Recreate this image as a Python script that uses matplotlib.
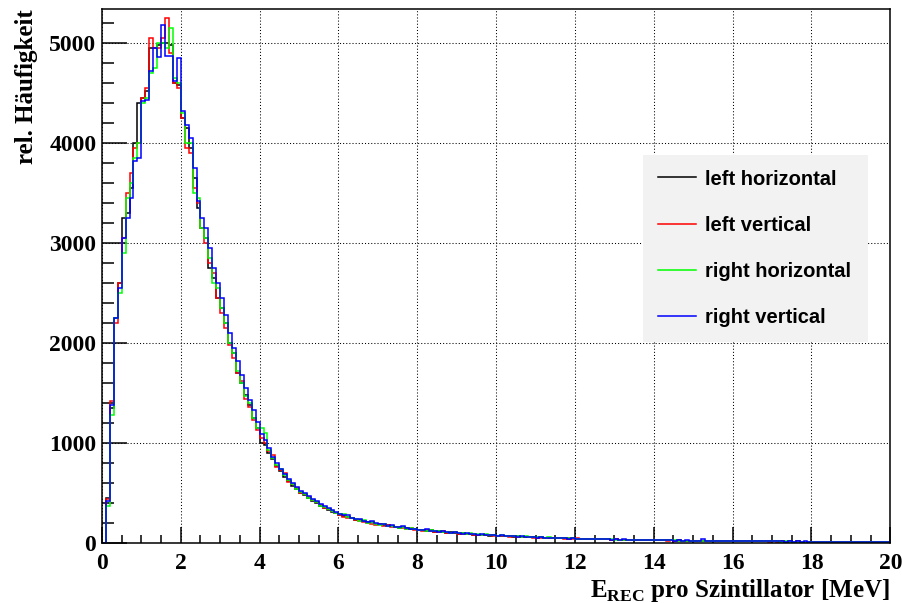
import matplotlib

matplotlib.use("Agg")

import matplotlib.pyplot as plt
import numpy as np
from matplotlib.ticker import MultipleLocator

# energy bins: 200 bins of 0.1 MeV from 0 to 20 MeV
bin_lo = 0.0
bin_hi = 20.0
n_bins = 200

labels = ["left horizontal", "left vertical", "right horizontal", "right vertical"]
colors = ["#000000", "#ff0000", "#00ff00", "#0000ff"]

left_horizontal = [
    0, 450, 1350, 2250, 2600, 3250, 3300, 3550, 4000, 4400,
    4450, 4520, 4950, 4950, 4980, 5000, 5000, 4980, 4600, 4580,
    4250, 4150, 3950, 3650, 3350, 3150, 3050, 2750, 2650, 2450,
    2350, 2200, 2000, 1900, 1700, 1600, 1480, 1380, 1250, 1150,
    1000,
    980, 900, 840, 770, 720, 660, 620, 570, 540, 500, 480, 450, 420, 400, 370, 350, 330, 315, 300, 280,
    270, 260, 250, 235, 230, 220, 210, 215, 195, 190, 185, 180, 170, 165, 155, 160, 150, 140, 145, 130,
    130, 125, 130, 115, 120, 110, 105, 110, 100, 95, 100, 90, 95, 85, 85, 80, 85, 75, 80, 70,
    75, 70, 70, 65, 68, 60, 62, 58, 60, 55, 58, 52, 55, 50, 52, 48, 50, 45, 48, 44,
    44, 42, 40, 42, 38, 40, 36, 38, 34, 36, 33, 35, 31, 33, 30, 32, 29, 30, 28, 29,
    27, 28, 26, 27, 25, 26, 24, 25, 23, 24, 22, 23, 21, 22, 20, 22, 20, 21, 19, 20,
    19, 20, 18, 19, 17, 18, 17, 18, 16, 17, 16, 17, 15, 16, 15, 16, 14, 15, 14, 15,
    14, 15, 13, 14, 13, 14, 12, 13, 12, 13, 12, 12, 11, 12, 11, 12, 10, 11, 10,
]

left_vertical = [
    0, 440, 1420, 2200, 2600, 3050, 3500, 3700, 3950, 4000,
    4450, 4550, 5050, 4950, 4950, 5050, 5250, 4900, 4600, 4550,
    4250, 3950, 3900, 3550, 3400, 3150, 3000, 2800, 2700, 2450,
    2300, 2150, 1980, 1850, 1700, 1620, 1440, 1360, 1230, 1130,
    1050,
    1000, 920, 880, 760, 730, 700, 610, 590, 550, 500, 490, 460, 430, 410, 380, 355, 340, 320, 300, 285,
    265, 255, 250, 230, 225, 215, 200, 195, 185, 190, 175, 185, 165, 160, 165, 150, 145, 150, 135, 130,
    125, 130, 120, 115, 110, 120, 105, 100, 110, 95, 95, 90, 95, 85, 80, 85, 78, 80, 72, 75,
    70, 72, 65, 68, 62, 65, 58, 60, 55, 58, 52, 55, 50, 52, 48, 50, 45, 48, 43, 46,
    42, 44, 40, 41, 38, 39, 36, 37, 34, 36, 32, 34, 31, 32, 29, 31, 28, 30, 27, 28,
    26, 27, 25, 26, 24, 25, 23, 24, 22, 23, 21, 22, 20, 21, 19, 21, 18, 20, 18, 19,
    18, 19, 17, 18, 16, 17, 16, 17, 15, 16, 15, 16, 14, 15, 14, 15, 13, 14, 13, 14,
    13, 14, 12, 13, 12, 13, 11, 12, 11, 12, 10, 11, 10, 11, 10, 11, 9, 10, 9,
]

right_horizontal = [
    0, 370, 1280, 2250, 2500, 2900, 3450, 3600, 3850, 4000,
    4400, 4450, 4700, 4750, 5000, 5000, 4950, 5150, 4650, 4600,
    4300, 4000, 4000, 3500, 3450, 3150, 3050, 2850, 2600, 2550,
    2350, 2200, 2000, 1900, 1720, 1600, 1470, 1400, 1250, 1150,
    1150,
    1100, 930, 850, 780, 740, 680, 630, 590, 540, 510, 490, 450, 435, 410, 375, 360, 340, 320, 305, 290,
    295, 265, 250, 245, 225, 230, 205, 210, 195, 185, 195, 170, 175, 160, 155, 165, 145, 150, 140, 135,
    135, 125, 130, 120, 125, 110, 115, 105, 110, 100, 105, 95, 100, 90, 90, 85, 90, 80, 82, 75,
    78, 70, 74, 66, 70, 62, 66, 58, 62, 56, 58, 54, 56, 50, 53, 48, 50, 46, 48, 44,
    45, 42, 43, 40, 41, 38, 39, 36, 37, 34, 35, 33, 34, 31, 32, 30, 31, 29, 30, 28,
    28, 27, 27, 26, 26, 25, 25, 24, 24, 23, 23, 22, 22, 21, 21, 20, 20, 19, 20, 19,
    19, 18, 18, 17, 18, 17, 17, 16, 17, 16, 16, 15, 16, 15, 15, 14, 15, 14, 14, 13,
    14, 13, 13, 12, 13, 12, 12, 11, 12, 11, 11, 10, 11, 10, 10, 9, 10, 9, 9,
]

right_vertical = [
    0, 420, 1380, 2250, 2550, 3050, 3250, 3450, 3820, 3850,
    4420, 4430, 4720, 4950, 4860, 5180, 4870, 4870, 4620, 4850,
    4320, 4180, 4050, 3750, 3420, 3250, 3150, 2950, 2750, 2600,
    2450, 2280, 2100, 1950, 1820, 1680, 1550, 1430, 1330, 1210,
    1090,
    1030, 950, 860, 800, 740, 690, 640, 600, 560, 520, 500, 470, 440, 420, 390, 370, 350, 330, 310, 295,
    280, 285, 255, 240, 245, 225, 215, 220, 200, 195, 190, 175, 180, 165, 160, 170, 150, 145, 140, 135,
    130, 140, 125, 120, 115, 125, 110, 105, 115, 100, 95, 100, 90, 95, 85, 90, 80, 85, 80, 75,
    80, 70, 75, 70, 65, 70, 60, 65, 60, 55, 60, 55, 50, 55, 50, 48, 52, 45, 50, 45,
    42, 45, 40, 44, 38, 40, 36, 40, 35, 38, 33, 36, 32, 35, 30, 33, 30, 32, 28, 30,
    28, 30, 26, 28, 25, 27, 24, 26, 23, 25, 22, 45, 22, 24, 20, 23, 20, 22, 19, 21,
    19, 20, 18, 20, 17, 19, 17, 18, 16, 18, 16, 17, 15, 17, 15, 16, 14, 16, 14, 15,
    14, 15, 13, 15, 13, 14, 12, 14, 12, 13, 12, 13, 11, 12, 11, 12, 10, 12, 10,
]

series = [left_horizontal, left_vertical, right_horizontal, right_vertical]

plt.rcParams["mathtext.fontset"] = "custom"
plt.rcParams["mathtext.rm"] = "Liberation Serif:bold"
plt.rcParams["mathtext.bf"] = "Liberation Serif:bold"

fig = plt.figure(figsize=(9.02, 6.03), dpi=100)
ax = fig.add_axes([0.113, 0.0995, 0.874, 0.8855])

edges = np.linspace(bin_lo, bin_hi, n_bins + 1)
for values, color, label in zip(series, colors, labels):
    ax.stairs(np.asarray(values, dtype=float), edges, color=color, lw=1.1, label=label, baseline=None)

ax.set_xlim(bin_lo, bin_hi)
ax.set_ylim(0, 5340)
ax.xaxis.set_major_locator(MultipleLocator(2))
ax.xaxis.set_minor_locator(MultipleLocator(0.5))
ax.yaxis.set_major_locator(MultipleLocator(1000))
ax.yaxis.set_minor_locator(MultipleLocator(200))

ax.set_axisbelow(True)
ax.grid(True, which="major", linestyle=(0, (1, 2)), color="black", lw=0.75)

for side in ax.spines.values():
    side.set_linewidth(1.1)

ax.tick_params(axis="x", which="major", direction="in", length=11.5, width=1.1, pad=7)
ax.tick_params(axis="x", which="minor", direction="in", length=5.8, width=1.1)
ax.tick_params(axis="y", which="major", direction="in", length=18, width=1.1, pad=4)
ax.tick_params(axis="y", which="minor", direction="in", length=8.6, width=1.1)
for tick in ax.get_xticklabels() + ax.get_yticklabels():
    tick.set_fontfamily("Liberation Serif")
    tick.set_fontweight("bold")
    tick.set_fontsize(17)

ax.set_xlabel(
    r"E$_{\mathbf{REC}}$ pro Szintillator [MeV]",
    loc="right",
    fontfamily="Liberation Serif",
    fontweight="bold",
    fontsize=18,
    labelpad=2,
)
ax.set_ylabel(
    "rel. Häufigkeit",
    loc="top",
    fontfamily="Liberation Serif",
    fontweight="bold",
    fontsize=18,
    labelpad=8,
)

leg = ax.legend(
    loc="upper left",
    bbox_to_anchor=(0.6866, 0.384, 0.2855, 0.3426),
    mode="expand",
    borderaxespad=0,
    prop={"family": "Liberation Sans", "weight": "bold", "size": 14.5},
    frameon=True,
    fancybox=False,
    facecolor="#f2f2f2",
    edgecolor="none",
    framealpha=1,
    handlelength=1.9,
    handletextpad=0.45,
    labelspacing=1.35,
    borderpad=0.72,
)
for line in leg.get_lines():
    line.set_linewidth(1.1)

fig.savefig("out.png", dpi=100, facecolor="white")
